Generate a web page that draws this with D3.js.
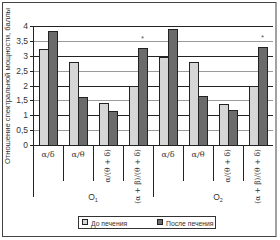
<!DOCTYPE html>
<html lang="ru">
<head>
<meta charset="UTF-8">
<script src="https://d3js.org/d3.v7.min.js"></script>
<style>
  body { margin: 0; background: #fff; overflow: hidden; }
  svg { font-family: "Liberation Sans", Arial, sans-serif; }
</style>
</head>
<body>
<div id="chart"></div>
<script>
// data
const groups = ["O1", "O2"];
const categories = ["α/δ", "α/θ", "α/(θ + δ)", "(α + β)/(θ + δ)"];
const seriesNames = ["До печения", "После печения"];
const before = [3.23, 2.78, 1.40, 2.0, 2.97, 2.78, 1.38, 2.0];
const after  = [3.83, 1.62, 1.14, 3.27, 3.9, 1.66, 1.18, 3.3];
const marked = [false, false, false, true, false, false, false, true];
const yTicks = [0, 0.5, 1, 1.5, 2, 2.5, 3, 3.5, 4];

const W = 280, H = 240;
const plotL = 33, plotR = 273, plotT = 26, plotB = 145;
const colors = ["#d6d6d6", "#6b6b6b"];

const svg = d3.select("#chart").append("svg")
    .attr("width", W).attr("height", H);

// outer frame
svg.append("rect")
    .attr("x", 2.5).attr("y", 2.5)
    .attr("width", 273.5).attr("height", 234)
    .attr("fill", "#fff").attr("stroke", "#444").attr("stroke-width", 1);

const keys = d3.range(before.length);
const x = d3.scaleBand().domain(keys).range([plotL, plotR]);
const xs = d3.scaleBand().domain([0, 1])
    .range([x.bandwidth() * 0.2, x.bandwidth() * 0.8]);
const y = d3.scaleLinear().domain([0, 4]).range([plotB, plotT]);

// gridlines
svg.append("g").selectAll("line")
  .data(yTicks.filter(d => d > 0))
  .enter().append("line")
    .attr("x1", plotL).attr("x2", plotR)
    .attr("y1", d => Math.round(y(d)) + 0.5)
    .attr("y2", d => Math.round(y(d)) + 0.5)
    .attr("stroke", d => d % 1 === 0 ? "#222" : "#9a9a9a");

// bars
const rows = keys.map(i => ({ i, v: [before[i], after[i]] }));
const bar = svg.append("g").selectAll("g")
  .data(rows).enter().append("g")
    .attr("transform", d => `translate(${x(d.i)},0)`);

bar.selectAll("rect")
  .data(d => d.v.map((v, s) => ({ v, s })))
  .enter().append("rect")
    .attr("x", d => Math.round(xs(d.s)) + 0.5)
    .attr("y", d => Math.round(y(d.v)) + 0.5)
    .attr("width", xs.bandwidth())
    .attr("height", d => plotB - Math.round(y(d.v)))
    .attr("fill", d => colors[d.s])
    .attr("stroke", "#222").attr("stroke-width", 1);

// significance stars
svg.append("g").selectAll("text")
  .data(keys.filter(i => marked[i]))
  .enter().append("text")
    .attr("x", i => x(i) + xs(1) + xs.bandwidth() / 2)
    .attr("y", i => y(after[i]) - 7)
    .attr("text-anchor", "middle")
    .attr("font-size", 8).attr("fill", "#555")
    .text("*");

// axes lines
svg.append("line")
    .attr("x1", plotL + 0.5).attr("x2", plotL + 0.5)
    .attr("y1", plotT).attr("y2", plotB + 52)
    .attr("stroke", "#222");
svg.append("line")
    .attr("x1", plotL).attr("x2", plotR)
    .attr("y1", plotB + 0.5).attr("y2", plotB + 0.5)
    .attr("stroke", "#222");

// y ticks
const yAxis = svg.append("g");
yTicks.forEach(t => {
  yAxis.append("line")
    .attr("x1", plotL - 3).attr("x2", plotL)
    .attr("y1", Math.round(y(t)) + 0.5).attr("y2", Math.round(y(t)) + 0.5)
    .attr("stroke", "#222");
  yAxis.append("text")
    .attr("x", 28).attr("y", y(t) + 3)
    .attr("text-anchor", "end")
    .attr("font-size", 8.5).attr("fill", "#333")
    .text(String(t).replace(".", ","));
});

svg.append("text")
    .attr("transform", "translate(10,86) rotate(-90)")
    .attr("text-anchor", "middle")
    .attr("font-size", 7.6).attr("fill", "#333")
    .text("Отношение спектральной мощности, баллы");

// category labels and separators
const xl = svg.append("g");
keys.forEach(i => {
  const c = i % categories.length;
  const cx = x(i) + x.bandwidth() / 2;
  if (c < 2) {
    xl.append("text")
      .attr("x", cx).attr("y", plotB + 12)
      .attr("text-anchor", "middle")
      .attr("font-size", 8).attr("fill", "#333")
      .attr("font-family", "DejaVu Serif, serif")
      .text(categories[c]);
  } else {
    xl.append("text")
      .attr("transform", `translate(${cx + 2},${plotB + 4}) rotate(-90)`)
      .attr("text-anchor", "end")
      .attr("font-size", 7.5).attr("fill", "#333")
      .attr("font-family", "DejaVu Serif, serif")
      .text(categories[c]);
  }
  if (c > 0) {
    xl.append("line")
      .attr("x1", Math.round(x(i)) + 0.5).attr("x2", Math.round(x(i)) + 0.5)
      .attr("y1", plotB).attr("y2", plotB + 36)
      .attr("stroke", "#222");
  }
});

groups.forEach((g, k) => {
  const i0 = k * categories.length;
  const gx = x(i0) + x.bandwidth() * categories.length / 2;
  if (k > 0) {
    xl.append("line")
      .attr("x1", Math.round(x(i0)) + 0.5).attr("x2", Math.round(x(i0)) + 0.5)
      .attr("y1", plotB).attr("y2", plotB + 52)
      .attr("stroke", "#222");
  }
  const t = xl.append("text")
    .attr("x", gx + k * 5).attr("y", plotB + 55)
    .attr("text-anchor", "middle")
    .attr("font-size", 8.5).attr("fill", "#333")
    .text("O");
  t.append("tspan")
    .attr("font-size", 5.5).attr("dy", 2)
    .text(String(k + 1));
});

// legend
const lg = svg.append("g").attr("transform", "translate(78,216)");
lg.append("rect")
    .attr("x", 0.5).attr("y", 0.5).attr("width", 137).attr("height", 12)
    .attr("fill", "#fff").attr("stroke", "#333");
seriesNames.forEach((n, s) => {
  const ox = s === 0 ? 4 : 79;
  lg.append("rect")
    .attr("x", ox + 0.5).attr("y", 3.5).attr("width", 5).attr("height", 5)
    .attr("fill", colors[s]).attr("stroke", "#222");
  lg.append("text")
    .attr("x", ox + 9).attr("y", 9.5)
    .attr("font-size", 6.8).attr("fill", "#333")
    .text(n);
});
</script>
</body>
</html>
